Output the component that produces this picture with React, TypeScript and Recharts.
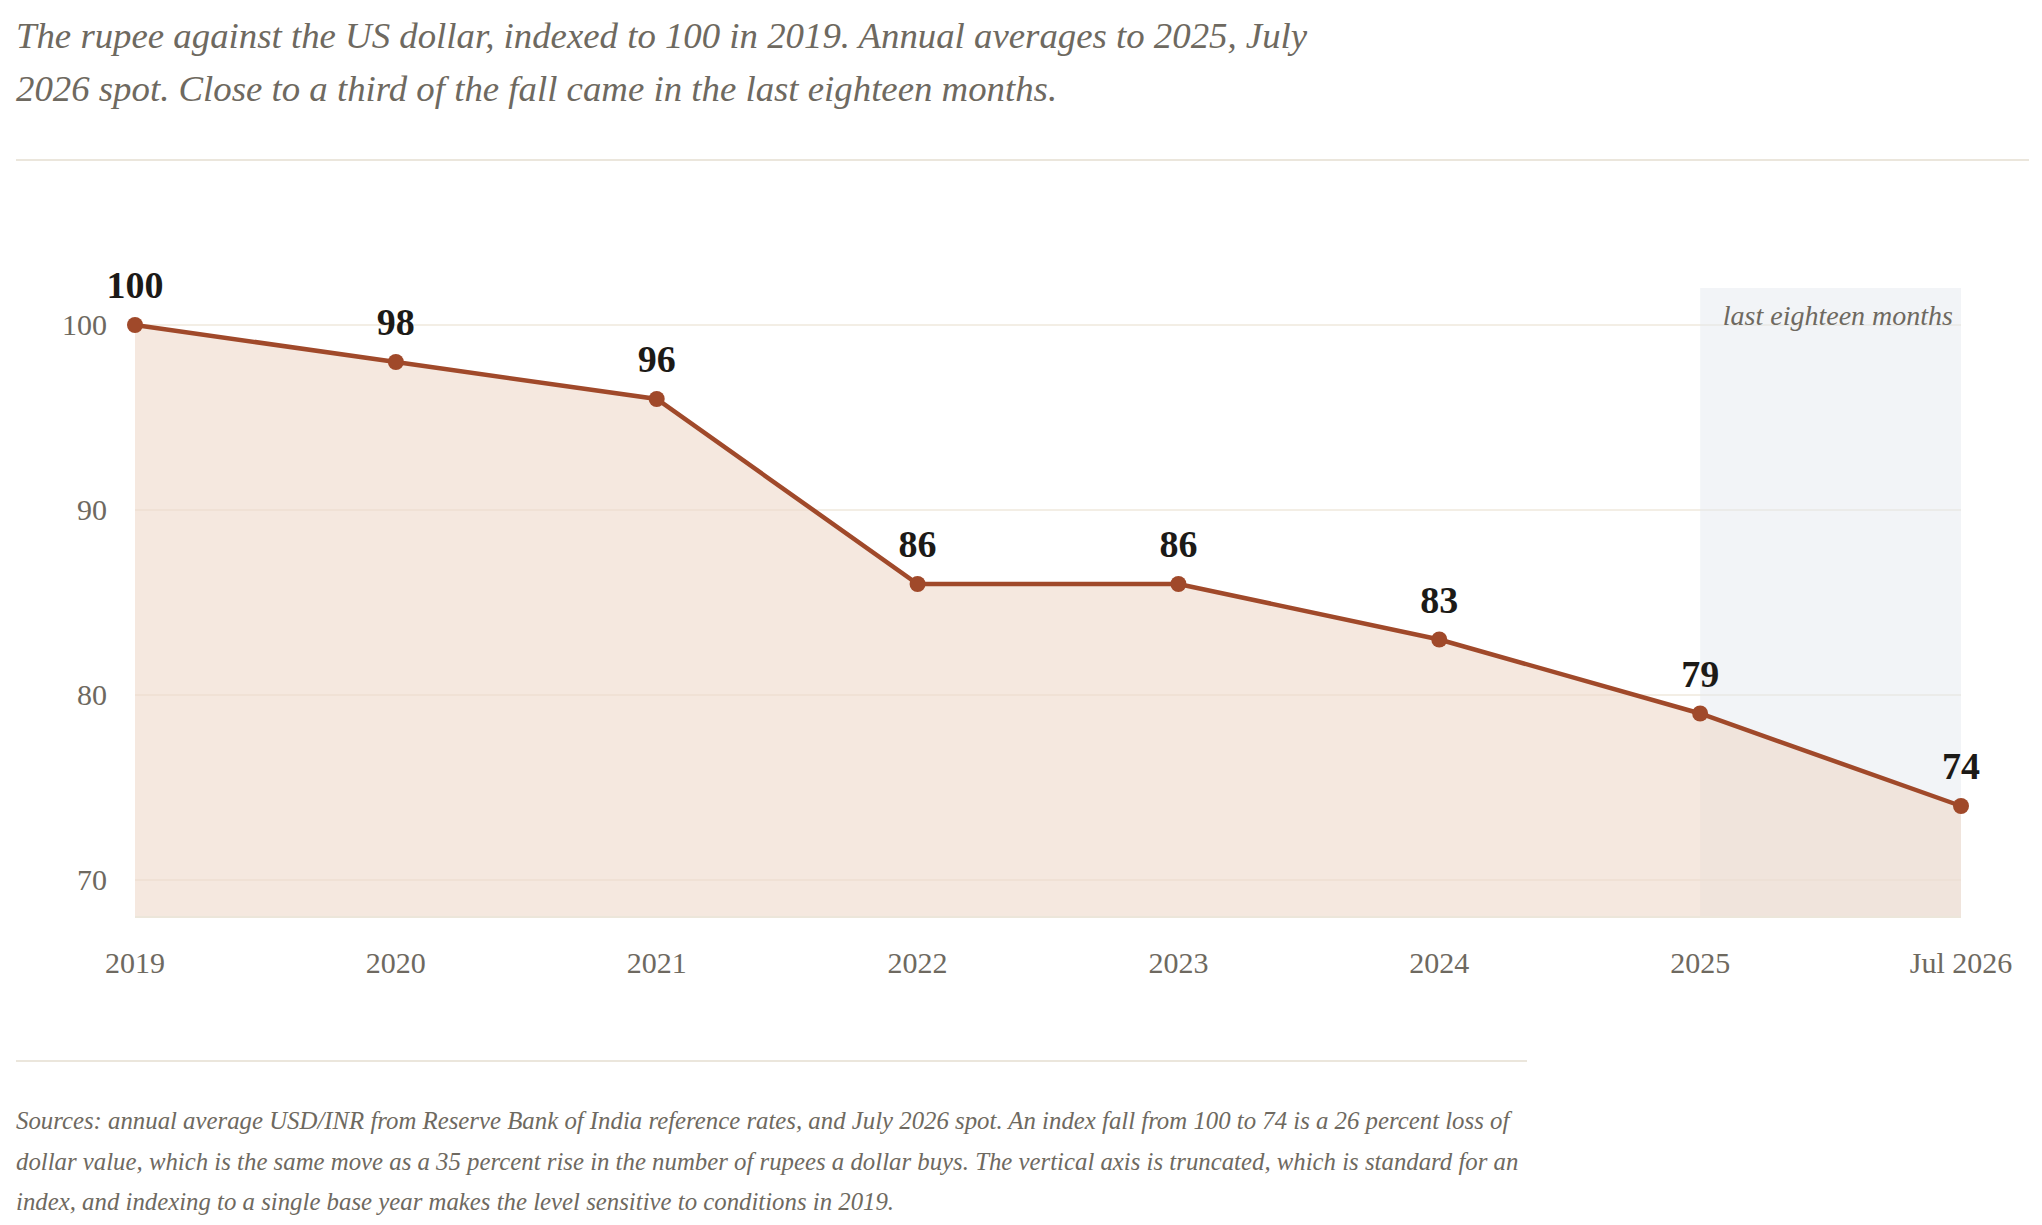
import React from "react";
import {
  AreaChart,
  Area,
  XAxis,
  YAxis,
  CartesianGrid,
  ReferenceArea,
  LabelList,
} from "recharts";

const categories = ["2019", "2020", "2021", "2022", "2023", "2024", "2025", "Jul 2026"];
const indexValues = [100, 98, 96, 86, 86, 83, 79, 74];
// shaded "last eighteen months" band: spans the top of the axis over the last two points
const bandValues = [null, null, null, null, null, null, 102, 102];
const yTicks = [70, 80, 90, 100];
const yDomain = [68, 102];
const highlightStart = "2025";
const highlightEnd = "Jul 2026";

const data = categories.map((c, i) => ({ label: c, value: indexValues[i], band: bandValues[i] }));

const SERIF = '"Liberation Serif", "DejaVu Serif", serif';
const GREY = "#6e6960";
const RUST = "#a0492a";

const XTick = (props: any) => {
  const { x, y, payload } = props;
  return (
    <text x={x} y={y + 56} textAnchor="middle" fontFamily={SERIF} fontSize={30} fill={GREY}>
      {payload.value}
    </text>
  );
};

const YTick = (props: any) => {
  const { x, y, payload } = props;
  return (
    <text x={x - 28} y={y + 10} textAnchor="end" fontFamily={SERIF} fontSize={30} fill={GREY}>
      {payload.value}
    </text>
  );
};

const ValueLabel = (props: any) => {
  const { x, y, value } = props;
  return (
    <text x={x} y={y - 27} textAnchor="middle" fontFamily={SERIF} fontWeight={700} fontSize={38} fill="#1c1a17">
      {value}
    </text>
  );
};

const AreaLabel = (props: any) => {
  const vb = props.viewBox || {};
  return (
    <text
      x={vb.x + vb.width - 8}
      y={vb.y + 37}
      textAnchor="end"
      fontFamily={SERIF}
      fontStyle="italic"
      fontSize={28}
      fill={GREY}
    >
      last eighteen months
    </text>
  );
};

export default function App() {
  return (
    <div style={{ position: "relative", width: 2026, height: 1209, fontFamily: SERIF, background: "#fff" }}>
      <div
        style={{
          position: "absolute",
          left: 8,
          top: 1,
          fontSize: 36.8,
          lineHeight: "53px",
          fontStyle: "italic",
          color: GREY,
          whiteSpace: "nowrap",
        }}
      >
        The rupee against the US dollar, indexed to 100 in 2019. Annual averages to 2025, July
        <br />
        2026 spot. Close to a third of the fall came in the last eighteen months.
      </div>
      <div style={{ position: "absolute", left: 8, top: 151, width: 2013, height: 2, background: "#ebe6dc" }} />
      <div style={{ position: "absolute", left: 0, top: 180 }}>
        <AreaChart width={2026} height={850} data={data} margin={{ top: 100, right: 73, bottom: 41, left: 0 }}>
          <CartesianGrid vertical={false} stroke="#efe8dc" strokeWidth={1.5} horizontalValues={yTicks} />
          <XAxis
            dataKey="label"
            height={80}
            tickLine={false}
            tickSize={0}
            tickMargin={0}
            axisLine={{ stroke: "#ece6da", strokeWidth: 2 }}
            tick={<XTick />}
            interval={0}
          />
          <YAxis
            width={127}
            domain={yDomain}
            ticks={yTicks}
            allowDataOverflow
            tickLine={false}
            axisLine={false}
            tickSize={0}
            tickMargin={0}
            tick={<YTick />}
          />
          <Area
            type="linear"
            dataKey="band"
            stroke="none"
            fill="#e3e7ed"
            fillOpacity={0.45}
            dot={false}
            activeDot={false}
            connectNulls={false}
            isAnimationActive={false}
          />
          <Area
            type="linear"
            dataKey="value"
            stroke={RUST}
            strokeWidth={4.5}
            fill="#eed8ca"
            fillOpacity={0.6}
            dot={{ r: 8, fill: RUST, fillOpacity: 1, stroke: "none" }}
            activeDot={false}
            isAnimationActive={false}
          >
            <LabelList dataKey="value" content={<ValueLabel />} />
          </Area>
          <ReferenceArea
            x1={highlightStart}
            x2={highlightEnd}
            fill="none"
            fillOpacity={0}
            stroke="none"
            label={<AreaLabel />}
          />
        </AreaChart>
      </div>
      <div style={{ position: "absolute", left: 8, top: 1052, width: 1511, height: 2, background: "#ebe6dc" }} />
      <div
        style={{
          position: "absolute",
          left: 8,
          top: 1093,
          fontSize: 24.8,
          lineHeight: "40.5px",
          fontStyle: "italic",
          color: GREY,
          whiteSpace: "nowrap",
        }}
      >
        Sources: annual average USD/INR from Reserve Bank of India reference rates, and July 2026 spot. An index fall from 100 to 74 is a 26 percent loss of
        <br />
        dollar value, which is the same move as a 35 percent rise in the number of rupees a dollar buys. The vertical axis is truncated, which is standard for an
        <br />
        index, and indexing to a single base year makes the level sensitive to conditions in 2019.
      </div>
    </div>
  );
}
